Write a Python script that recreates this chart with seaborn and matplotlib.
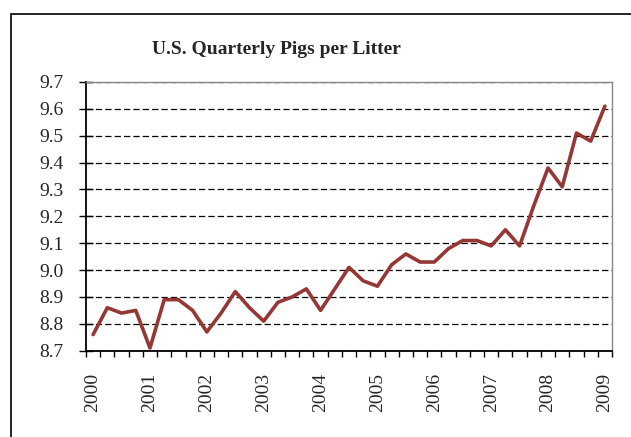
import numpy as np
import pandas as pd
import matplotlib
matplotlib.use("Agg")
import matplotlib.pyplot as plt
from matplotlib.patches import Rectangle
from matplotlib.ticker import FixedLocator
import seaborn as sns

# 분기별 한배 새끼수 (2000 Q1 ~ 2009 Q1)
years = ["2000", "2001", "2002", "2003", "2004", "2005", "2006", "2007", "2008", "2009"]
pigs_per_litter = [
    8.76, 8.86, 8.84, 8.85,
    8.71, 8.89, 8.89, 8.85,
    8.77, 8.84, 8.92, 8.86,
    8.81, 8.88, 8.90, 8.93,
    8.85, 8.93, 9.01, 8.96,
    8.94, 9.02, 9.06, 9.03,
    9.03, 9.08, 9.11, 9.11,
    9.09, 9.15, 9.09, 9.24,
    9.38, 9.31, 9.51, 9.48,
    9.61,
]

df = pd.DataFrame({"quarter": np.arange(len(pigs_per_litter)), "value": pigs_per_litter})

sns.set_style("white")
plt.rcParams["font.family"] = ["Liberation Serif", "DejaVu Serif"]

fig = plt.figure(figsize=(6.31, 4.37), dpi=100)
ax = fig.add_axes([86 / 631, 1 - 350.7 / 437, (612 - 86) / 631, (350.7 - 82) / 437])

# 바깥 테두리 (오른쪽/아래는 잘린 형태)
fig.patches.append(Rectangle((11 / 631, -0.1), 1.2, 1 - 14 / 437 + 0.1,
                             transform=fig.transFigure, fill=False,
                             edgecolor="black", lw=1.2))

sns.lineplot(data=df, x="quarter", y="value", color="#953735", lw=2.6, ax=ax)

ax.set_xlim(-0.5, len(pigs_per_litter) - 0.5)
ax.set_ylim(8.7, 9.7)
ax.set_yticks(np.round(np.arange(8.7, 9.71, 0.1), 1))
ax.set_yticklabels([f"{v:.1f}" for v in np.arange(8.7, 9.71, 0.1)])

ax.set_xticks(np.arange(0, len(pigs_per_litter), 4))
ax.set_xticklabels(years, rotation=90)
ax.xaxis.set_minor_locator(FixedLocator(np.arange(-0.5, len(pigs_per_litter), 1)))
ax.tick_params(axis="x", which="major", length=0, pad=16, labelsize=14)
ax.tick_params(axis="x", which="minor", length=4, width=1, direction="out", color="black", bottom=True)
ax.tick_params(axis="y", which="major", length=10, width=1, direction="inout", color="black",
               left=True, labelsize=14, pad=11)

ax.grid(axis="y", color="black", linestyle=(0, (5, 2.5)), lw=0.9)
ax.grid(axis="x", visible=False)
ax.set_axisbelow(True)

for s in ["left", "bottom"]:
    ax.spines[s].set_color("black")
    ax.spines[s].set_linewidth(1.3)
for s in ["top", "right"]:
    ax.spines[s].set_color("#888888")
    ax.spines[s].set_linewidth(1.0)

ax.set_xlabel("")
ax.set_ylabel("")
fig.text(276 / 631, 1 - 49 / 437, "U.S. Quarterly Pigs per Litter", ha="center", va="center",
         fontsize=14, fontweight="bold")

fig.savefig("out.png", dpi=100)
